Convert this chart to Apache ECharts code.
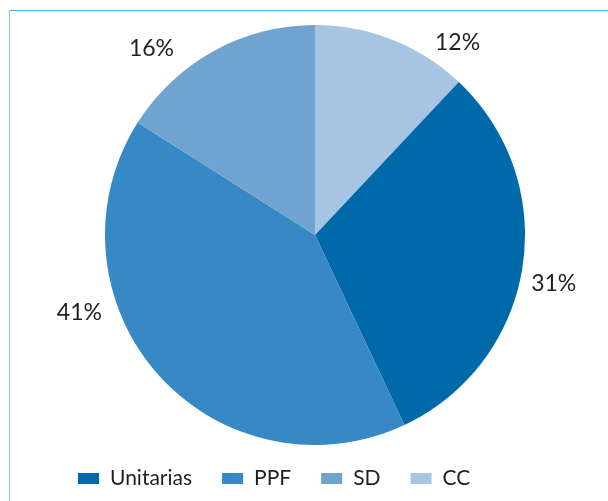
<!DOCTYPE html>
<html>
<head>
<meta charset="utf-8">
<script src="https://cdn.jsdelivr.net/npm/echarts@6/dist/echarts.min.js"></script>
<style>
html,body{margin:0;padding:0;background:#fff;}
#c{width:608px;height:501px;}
</style>
</head>
<body>
<div id="c"></div>
<script>
// Data (pie drawn clockwise from 12 o'clock)
const categories = ['CC', 'Unitarias', 'PPF', 'SD'];
const values = [12, 31, 41, 16];
const legendOrder = ['Unitarias', 'PPF', 'SD', 'CC'];

// Styling
const colors = {CC: '#a7c4e2', Unitarias: '#0069a9', PPF: '#3689c4', SD: '#70a3cf'};
// label line lengths [length, length2] used to place the (hidden-line) outside labels
const labelLines = {CC: [-3.5, 39], Unitarias: [103, -98], PPF: [-92, 119.5], SD: [2.3, 33.7]};

const FONT = 'Lato';
const chart = echarts.init(document.getElementById('c'), null, {renderer: 'canvas'});

chart.setOption({
  animation: false,
  backgroundColor: '#ffffff',
  graphic: [
    {type: 'line', shape: {x1: 10, y1: 10.5, x2: 608, y2: 10.5}, style: {stroke: '#45b1e3', lineWidth: 1}},
    {type: 'line', shape: {x1: 9.5, y1: 10, x2: 9.5, y2: 501}, style: {stroke: '#8fcdee', lineWidth: 1}}
  ],
  legend: {
    data: legendOrder,
    left: 78,
    top: 468,
    padding: 0,
    itemWidth: 21,
    itemHeight: 11,
    itemGap: 30,
    icon: 'rect',
    textStyle: {fontFamily: FONT, fontSize: 21, color: '#231f20', padding: [0, 0, 0, 6]}
  },
  series: [{
    type: 'pie',
    center: [315, 235],
    radius: 210,
    startAngle: 90,
    clockwise: true,
    avoidLabelOverlap: false,
    percentPrecision: 0,
    itemStyle: {borderWidth: 0},
    label: {
      show: true,
      position: 'outside',
      formatter: '{d}%',
      fontFamily: FONT,
      fontSize: 23,
      color: '#231f20',
      distanceToLabelLine: 5
    },
    labelLine: {show: false},
    emphasis: {disabled: true},
    data: categories.map((name, i) => ({
      name: name,
      value: values[i],
      itemStyle: {color: colors[name]},
      labelLine: {show: false, length: labelLines[name][0], length2: labelLines[name][1]}
    }))
  }]
});
</script>
</body>
</html>
